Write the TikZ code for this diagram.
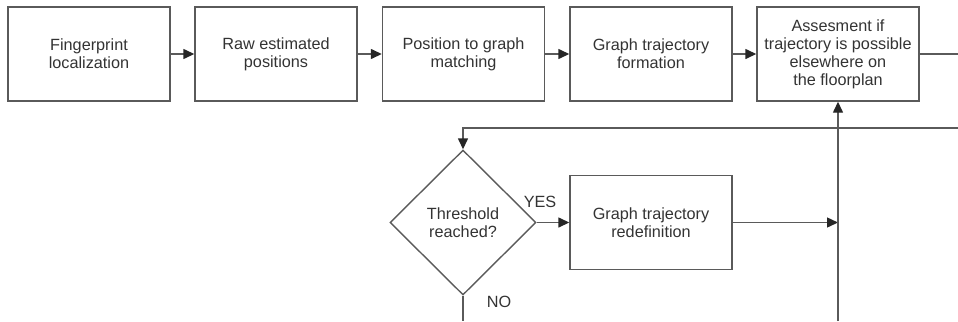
\documentclass[tikz,border=0pt]{standalone}
\usepackage{fontspec}
\setmainfont{Liberation Sans}
\usetikzlibrary{arrows.meta,shapes.geometric}
\definecolor{linegray}{HTML}{5A5A5A}
\definecolor{txtgray}{HTML}{333333}
\begin{document}
\begin{tikzpicture}[x=1bp,y=-1bp,
  every node/.style={text=txtgray,font=\fontsize{16.3}{18}\selectfont},
  box/.style={draw=linegray,line width=1.4bp,minimum width=162bp,minimum height=94bp,align=center,inner sep=2bp},
  dec/.style={draw=linegray,line width=1.4bp,diamond,aspect=1,minimum width=146bp,minimum height=145bp,align=center,inner sep=0bp},
  conn/.style={draw=linegray,line width=1.4bp},
  arr/.style={conn,-{Triangle[length=11bp,width=10bp,fill=black!85,color=black!85]}},
  lbl/.style={inner sep=0bp}]
\useasboundingbox (0,0) rectangle (958,321);
\node[box] (b1) at (89,54) {Fingerprint\\localization};
\node[box] (b2) at (276,54) {Raw estimated\\positions};
\node[box] (b3) at (463.5,54) {Position to graph\\matching};
\node[box] (b4) at (651,54) {Graph trajectory\\formation};
\node[box] (b5) at (838,54) {Assesment if\\trajectory is possible\\elsewhere on\\the floorplan};
\node[dec] (d) at (463,222.5) {Threshold\\reached?};
\node[box] (b6) at (651,222.5) {Graph trajectory\\redefinition};
\coordinate (outR) at (958,54);
\coordinate (fbR) at (958,128);
\coordinate (fbL) at (463,128);
\coordinate (vB) at (838,321);
\coordinate (vM) at (838,222.5);
\coordinate (noB) at (463,321);
\draw[arr] (b1) -- (b2);
\draw[arr] (b2) -- (b3);
\draw[arr] (b3) -- (b4);
\draw[arr] (b4) -- (b5);
\draw[conn] (b5) -- (outR);
\draw[arr] (fbR) -- (fbL) -- (d.north);
\draw[arr] (d.east) -- (b6.west);
\draw[arr] (b6.east) -- (vM);
\draw[arr] (vB) -- (b5.south);
\draw[conn] (d.south) -- (noB);
\node[lbl] (yes) at (540,202) {YES};
\node[lbl] (no) at (499,302) {NO};
\end{tikzpicture}
\end{document}
